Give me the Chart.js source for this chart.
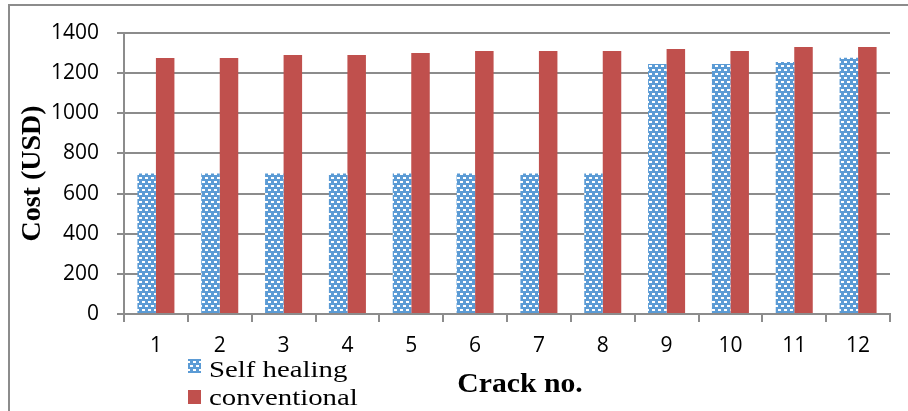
<!DOCTYPE html>
<html>
<head>
<meta charset="utf-8">
<script src="https://cdn.jsdelivr.net/npm/chart.js@4/dist/chart.umd.min.js"></script>
<style>
  html, body { margin: 0; padding: 0; background: #fff; }
  #wrap { position: relative; width: 908px; height: 411px; }
</style>
</head>
<body>
<div id="wrap"><canvas id="c" width="908" height="411"></canvas></div>
<script>
// Repair cost per crack
const crackNos = ['1','2','3','4','5','6','7','8','9','10','11','12'];
const selfHealing = [700, 700, 700, 700, 700, 700, 700, 700, 1245, 1245, 1255, 1277];
const conventional = [1275, 1275, 1290, 1290, 1300, 1310, 1310, 1310, 1320, 1310, 1330, 1330];
const yTicks = [0, 200, 400, 600, 800, 1000, 1200, 1400];

const BLUE = '#5b9bd5';
const RED = '#c0504d';
const GRID = '#8c8c8c';
const SERIF = '"Liberation Serif", "Times New Roman", serif';

// Blue fill with small white brick dashes
function brickPattern() {
  const p = document.createElement('canvas');
  p.width = 6; p.height = 8;
  const g = p.getContext('2d');
  g.fillStyle = BLUE;
  g.fillRect(0, 0, 6, 8);
  g.fillStyle = '#ffffff';
  g.fillRect(1, 1, 3, 2);
  g.fillRect(4, 5, 2, 2);
  g.fillRect(0, 5, 1, 2);
  return g.createPattern(p, 'repeat');
}
const blueFill = brickPattern();

// Text drawn slightly widened horizontally
function wideText(ctx, text, x, y, sx, align) {
  ctx.save();
  ctx.translate(x, y);
  ctx.scale(sx, 1);
  ctx.textAlign = align;
  ctx.fillText(text, 0, 0);
  ctx.restore();
}

// Frame, x-axis title and legend block
const extras = {
  id: 'extras',
  afterDraw(chart) {
    const ctx = chart.ctx;
    ctx.save();
    // outer frame (left and top edges)
    ctx.strokeStyle = GRID;
    ctx.lineWidth = 2;
    ctx.beginPath();
    ctx.moveTo(9, 411);
    ctx.lineTo(9, 5);
    ctx.lineTo(908, 5);
    ctx.stroke();

    // x-axis title
    ctx.fillStyle = '#000';
    ctx.textBaseline = 'alphabetic';
    ctx.font = 'bold 27px ' + SERIF;
    wideText(ctx, 'Crack no.', 520, 392, 1.1, 'center');

    // legend
    ctx.font = '24px ' + SERIF;
    const rows = [[0, 377, 359], [1, 405, 390]];
    rows.forEach(([i, base, top]) => {
      const ds = chart.data.datasets[i];
      ctx.fillStyle = ds.backgroundColor;
      ctx.fillRect(188, top, 13, 14);
      ctx.fillStyle = '#000';
      wideText(ctx, ds.label, 209, base, 1.2, 'left');
    });
    ctx.restore();
  }
};

new Chart(document.getElementById('c'), {
  type: 'bar',
  data: {
    labels: crackNos,
    datasets: [
      { label: 'Self healing', data: selfHealing, backgroundColor: blueFill,
        categoryPercentage: 0.58, barPercentage: 1.0 },
      { label: 'conventional', data: conventional, backgroundColor: RED,
        categoryPercentage: 0.58, barPercentage: 1.0 }
    ]
  },
  options: {
    responsive: false,
    animation: false,
    devicePixelRatio: 1,
    layout: { padding: { left: 0, right: 18, top: 33, bottom: 0 } },
    plugins: { legend: { display: false }, tooltip: { enabled: false } },
    scales: {
      x: {
        grid: { display: true, drawOnChartArea: false, drawTicks: true, tickLength: 8,
                color: GRID, lineWidth: 2, offset: true },
        border: { display: true, color: GRID, width: 2 },
        ticks: { color: '#000', font: { family: '"Open Sans", sans-serif', size: 21 },
                 padding: 11, maxRotation: 0 },
        afterFit(s) { s.height = 97; }
      },
      y: {
        min: 0, max: 1400,
        afterBuildTicks(s) { s.ticks = yTicks.map(v => ({ value: v })); },
        grid: { color: GRID, lineWidth: 2, tickLength: 7 },
        border: { display: true, color: GRID, width: 2 },
        ticks: { color: '#000', font: { family: '"Open Sans", sans-serif', size: 21 },
                 padding: 18, callback: v => String(v) },
        title: { display: true, text: 'Cost (USD)', color: '#000',
                 font: { family: SERIF, size: 28, weight: 'bold' },
                 padding: { top: 16, bottom: 0 } },
        afterFit(s) { s.width = 124; }
      }
    }
  },
  plugins: [extras]
});
</script>
</body>
</html>
